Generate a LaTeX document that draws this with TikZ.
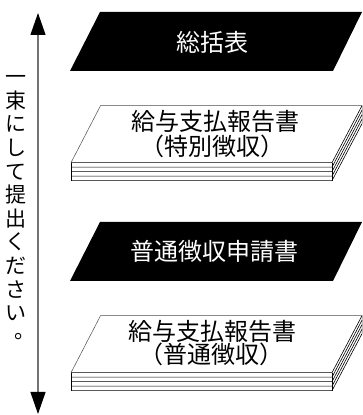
\documentclass[tikz,border=0pt]{standalone}
\usepackage{fontspec}
\newfontfamily\jp{Noto Sans CJK JP}
\usetikzlibrary{arrows.meta}
\begin{document}
\begin{tikzpicture}[x=1pt,y=1pt,
  darkbox/.style={fill=black},
  wtext/.style={text=white,font=\jp\fontsize{24}{26}\selectfont,inner sep=0pt},
  btext/.style={text=black,font=\jp\fontsize{24}{24.5}\selectfont,inner sep=0pt,align=center},
  vtext/.style={text=black,font=\jp\fontsize{21}{23.6}\selectfont,inner sep=0pt,align=center},
  arrowline/.style={draw=black!55,line width=1.2pt,
    {Triangle[width=15pt,length=22pt,black]}-{Triangle[width=15pt,length=22pt,black]}},
  stack/.pic={
    \fill[white] (71,-57) -- (100.5,0) -- (362,0) -- (362,-18) -- (332,-75) -- (71,-75) -- cycle;
    \foreach \d in {0,4.5,9,13.5,18}{\draw[line width=0.6pt] (71,-57-\d) -- (332,-57-\d) -- (362,-\d);}
    \draw[line width=0.6pt] (71,-57) -- (71,-75);
    \draw[line width=0.6pt] (332,-57) -- (332,-75);
    \draw[line width=0.5pt,black!70] (71,-57) -- (100.5,0) -- (362,0) -- (362,-18);
  }]
\useasboundingbox (0,0) rectangle (362,415);
% arrow
\coordinate (atop) at (38,402);
\coordinate (abot) at (38,1);
\draw[arrowline] (abot) -- (atop);
\node[vtext] (vt) at (16,205) {一\\束\\に\\し\\て\\提\\出\\く\\だ\\さ\\い\\\rlap{\hspace{0.45em}\raisebox{0.3em}{。}}\phantom{一}};
% black box 1
\fill[darkbox] (100,403) -- (362,403) -- (333,344) -- (70,344) -- cycle;
\node[wtext] (b1) at (212,373) {総括表};
% stack 1
\pic at (0,309.3) {stack};
\node[btext] (s1a) at (215,294) {給与支払報告書};
\node[btext] (s1b) at (212,269) {（特別徴収）};
% black box 2
\fill[darkbox] (100,193) -- (362,193) -- (333,134) -- (70,134) -- cycle;
\node[wtext] (b2) at (214,164) {普通徴収申請書};
% stack 2
\pic at (0,99.3) {stack};
\node[btext] (s2a) at (212,84) {給与支払報告書};
\node[btext] (s2b) at (211,61) {（普通徴収）};
\end{tikzpicture}
\end{document}
